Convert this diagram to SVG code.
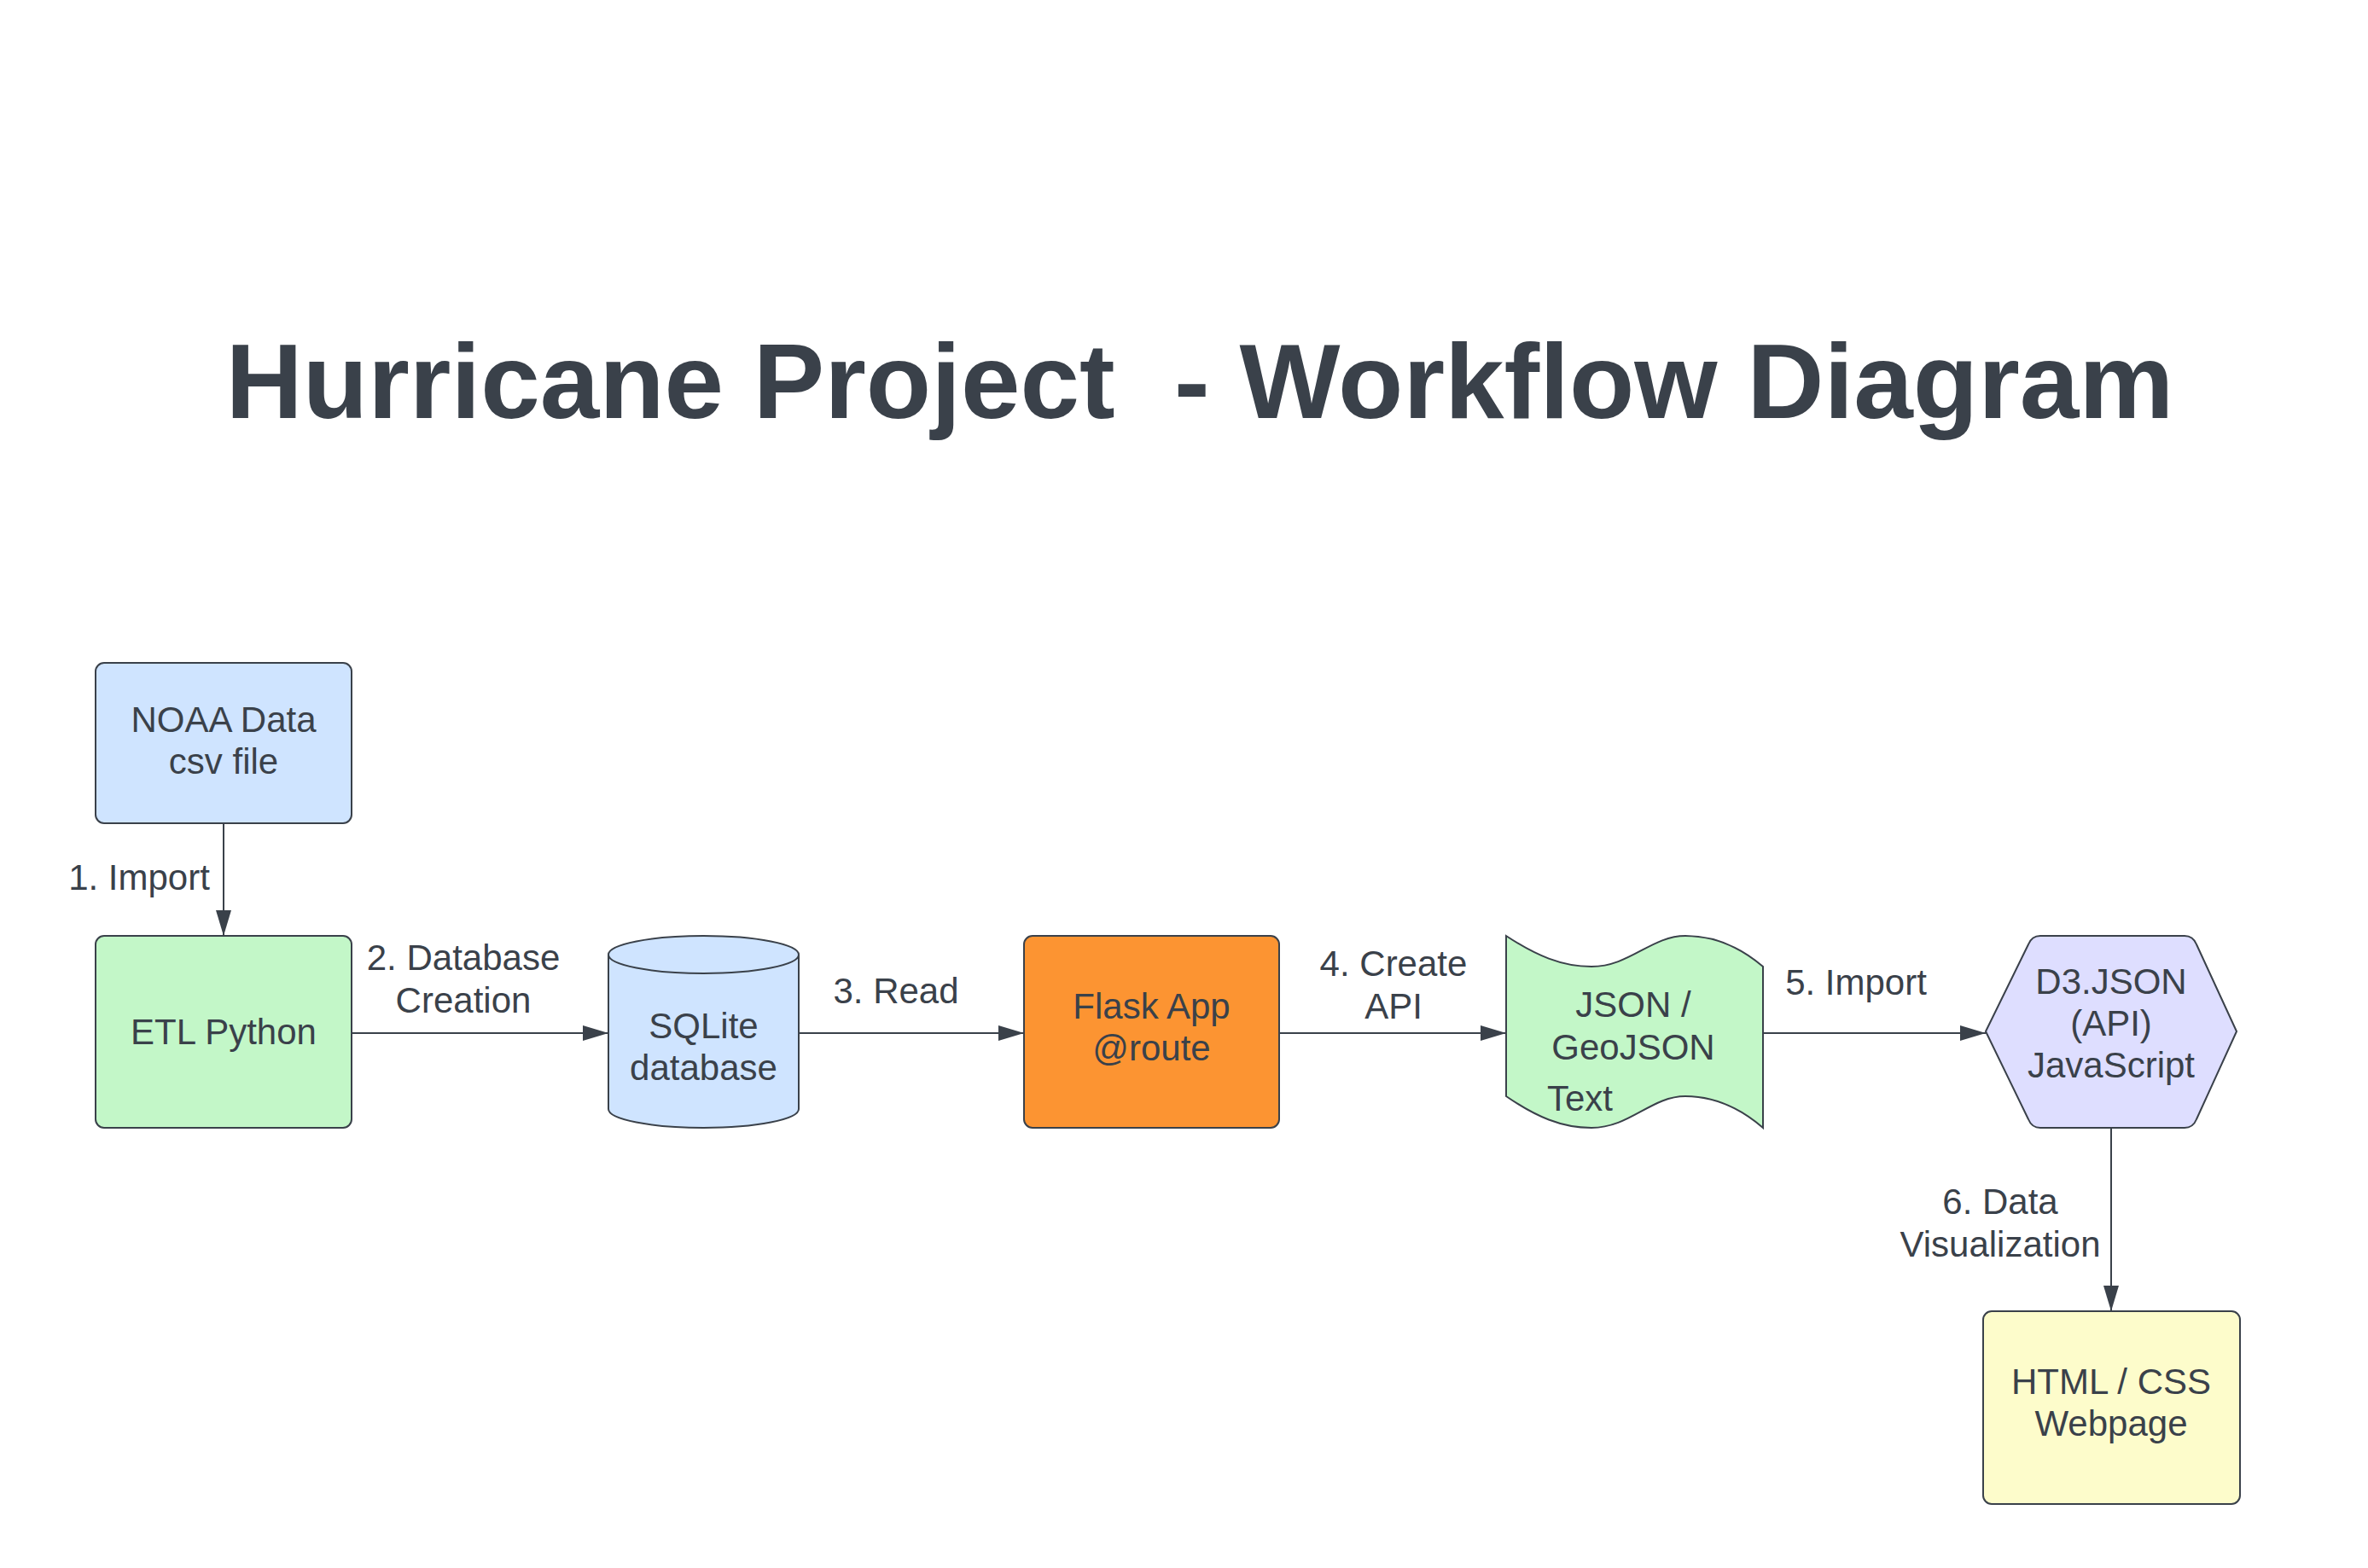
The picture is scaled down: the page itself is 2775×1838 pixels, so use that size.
<svg xmlns="http://www.w3.org/2000/svg" width="2775" height="1838" viewBox="0 0 2775 1838">
<style>
.t{font-family:"Liberation Sans",Arial,sans-serif;font-size:42px;fill:#3a414a;text-anchor:middle}
.n{stroke:#3a414a;stroke-width:2}
.c{stroke:#3a414a;stroke-width:2;fill:none}
.title{font-family:"Liberation Sans",Arial,sans-serif;font-size:125px;font-weight:bold;fill:#3a414a;text-anchor:middle}
</style>
<defs>
<marker id="arr" viewBox="0 0 30 18" refX="30" refY="9" markerWidth="30" markerHeight="18" markerUnits="userSpaceOnUse" orient="auto">
<path d="M0,0 L30,9 L0,18 Z" fill="#3a414a"/>
</marker>
</defs>
<rect width="2775" height="1838" fill="#ffffff"/>
<text class="title" x="1406" y="490" xml:space="preserve">Hurricane Project  - Workflow Diagram</text>

<g id="connectors">
<line class="c" x1="262" y1="965" x2="262" y2="1097" marker-end="url(#arr)"/>
<line class="c" x1="412" y1="1211" x2="713" y2="1211" marker-end="url(#arr)"/>
<line class="c" x1="936" y1="1211" x2="1200" y2="1211" marker-end="url(#arr)"/>
<line class="c" x1="1499" y1="1211" x2="1765" y2="1211" marker-end="url(#arr)"/>
<line class="c" x1="2066" y1="1211" x2="2327" y2="1211" marker-end="url(#arr)"/>
<line class="c" x1="2474" y1="1322" x2="2474" y2="1537" marker-end="url(#arr)"/>
<text class="t" x="163" y="1043">1. Import</text>
<text class="t" x="543" y="1137">2. Database</text>
<text class="t" x="543" y="1187">Creation</text>
<text class="t" x="1050" y="1176">3. Read</text>
<text class="t" x="1633" y="1144">4. Create</text>
<text class="t" x="1633" y="1194">API</text>
<text class="t" x="2175" y="1166">5. Import</text>
<text class="t" x="2344" y="1423">6. Data</text>
<text class="t" x="2344" y="1473">Visualization</text>
</g>

<g id="noaa">
<rect class="n" x="112" y="777" width="300" height="188" rx="10" fill="#cfe4ff"/>
<text class="t" x="262" y="858">NOAA Data</text>
<text class="t" x="262" y="907">csv file</text>
</g>

<g id="etl">
<rect class="n" x="112" y="1097" width="300" height="225" rx="10" fill="#c3f7c8"/>
<text class="t" x="262" y="1224">ETL Python</text>
</g>

<g id="sqlite">
<path class="n" d="M713,1119 A111.5,22 0 0 1 936,1119 L936,1300 A111.5,22 0 0 1 713,1300 Z" fill="#cfe4ff"/>
<path class="n" d="M713,1119 A111.5,22 0 0 0 936,1119" fill="none"/>
<text class="t" x="824.5" y="1217">SQLite</text>
<text class="t" x="824.5" y="1266">database</text>
</g>

<g id="flask">
<rect class="n" x="1200" y="1097" width="299" height="225" rx="10" fill="#fc9432"/>
<text class="t" x="1349.5" y="1194">Flask App</text>
<text class="t" x="1349.5" y="1243">@route</text>
</g>

<g id="json">
<path class="n" fill="#c3f7c8" d="M1765,1097 C1800,1120 1830,1133 1865,1133 C1910,1133 1935,1097 1975,1097 C2015,1097 2045,1115 2066,1133 L2066,1322 C2045,1304 2015,1285 1975,1285 C1935,1285 1910,1322 1865,1322 C1830,1322 1800,1309 1765,1285 Z"/>
<text class="t" x="1914" y="1192">JSON /</text>
<text class="t" x="1914" y="1242">GeoJSON</text>
<text class="t" x="1813" y="1302" style="text-anchor:start">Text</text>
</g>

<g id="d3">
<path class="n" fill="#dedeff" stroke-linejoin="round" d="M2391,1097 L2560,1097 Q2570,1097 2574,1107 L2621,1209 L2574,1312 Q2570,1322 2560,1322 L2391,1322 Q2381,1322 2377,1312 L2327,1209 L2377,1107 Q2381,1097 2391,1097 Z"/>
<text class="t" x="2474" y="1165">D3.JSON</text>
<text class="t" x="2474" y="1214">(API)</text>
<text class="t" x="2474" y="1263">JavaScript</text>
</g>

<g id="html">
<rect class="n" x="2324" y="1537" width="301" height="226" rx="10" fill="#fdfccb"/>
<text class="t" x="2474" y="1634">HTML / CSS</text>
<text class="t" x="2474" y="1683">Webpage</text>
</g>
</svg>
